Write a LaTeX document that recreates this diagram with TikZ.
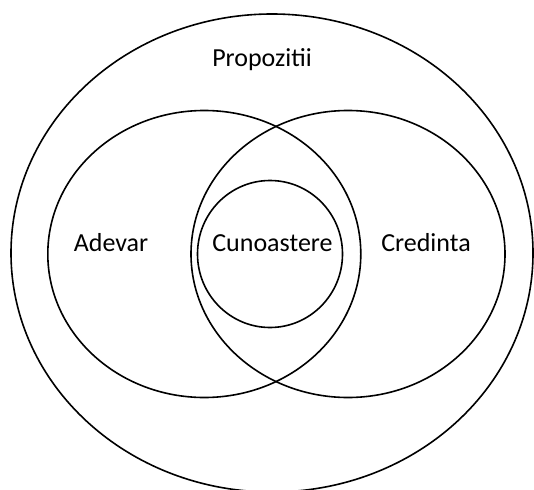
\documentclass[tikz,border=0pt]{standalone}
\usepackage{fontspec}
\setmainfont{Carlito}
\usetikzlibrary{shapes.geometric}
\begin{document}
\begin{tikzpicture}[x=1pt,y=-1pt,
  set/.style={draw=black, line width=1.6pt, ellipse, inner sep=0pt},
  lbl/.style={font=\fontsize{26}{31}\selectfont, inner sep=0pt, anchor=base}]
  \useasboundingbox (0,0) rectangle (534,489);
  % outer set and the two overlapping sets
  \node[set, minimum width=522pt, minimum height=478pt] (prop) at (272,253) {};
  \node[set, minimum width=313pt, minimum height=287pt] (adev) at (204.3,254) {};
  \node[set, minimum width=314pt, minimum height=287pt] (cred) at (348,254) {};
  % knowledge: inside the intersection
  \node[set, minimum width=145pt, minimum height=147pt] (cun) at (270,254) {};
  % labels
  \node[lbl] (tprop) at (262,66.4) {Propozitii};
  \node[lbl] (tadev) at (111,251.3) {Adevar};
  \node[lbl] (tcun) at (272.5,251.3) {Cunoastere};
  \node[lbl] (tcred) at (426,251.3) {Credinta};
\end{tikzpicture}
\end{document}
